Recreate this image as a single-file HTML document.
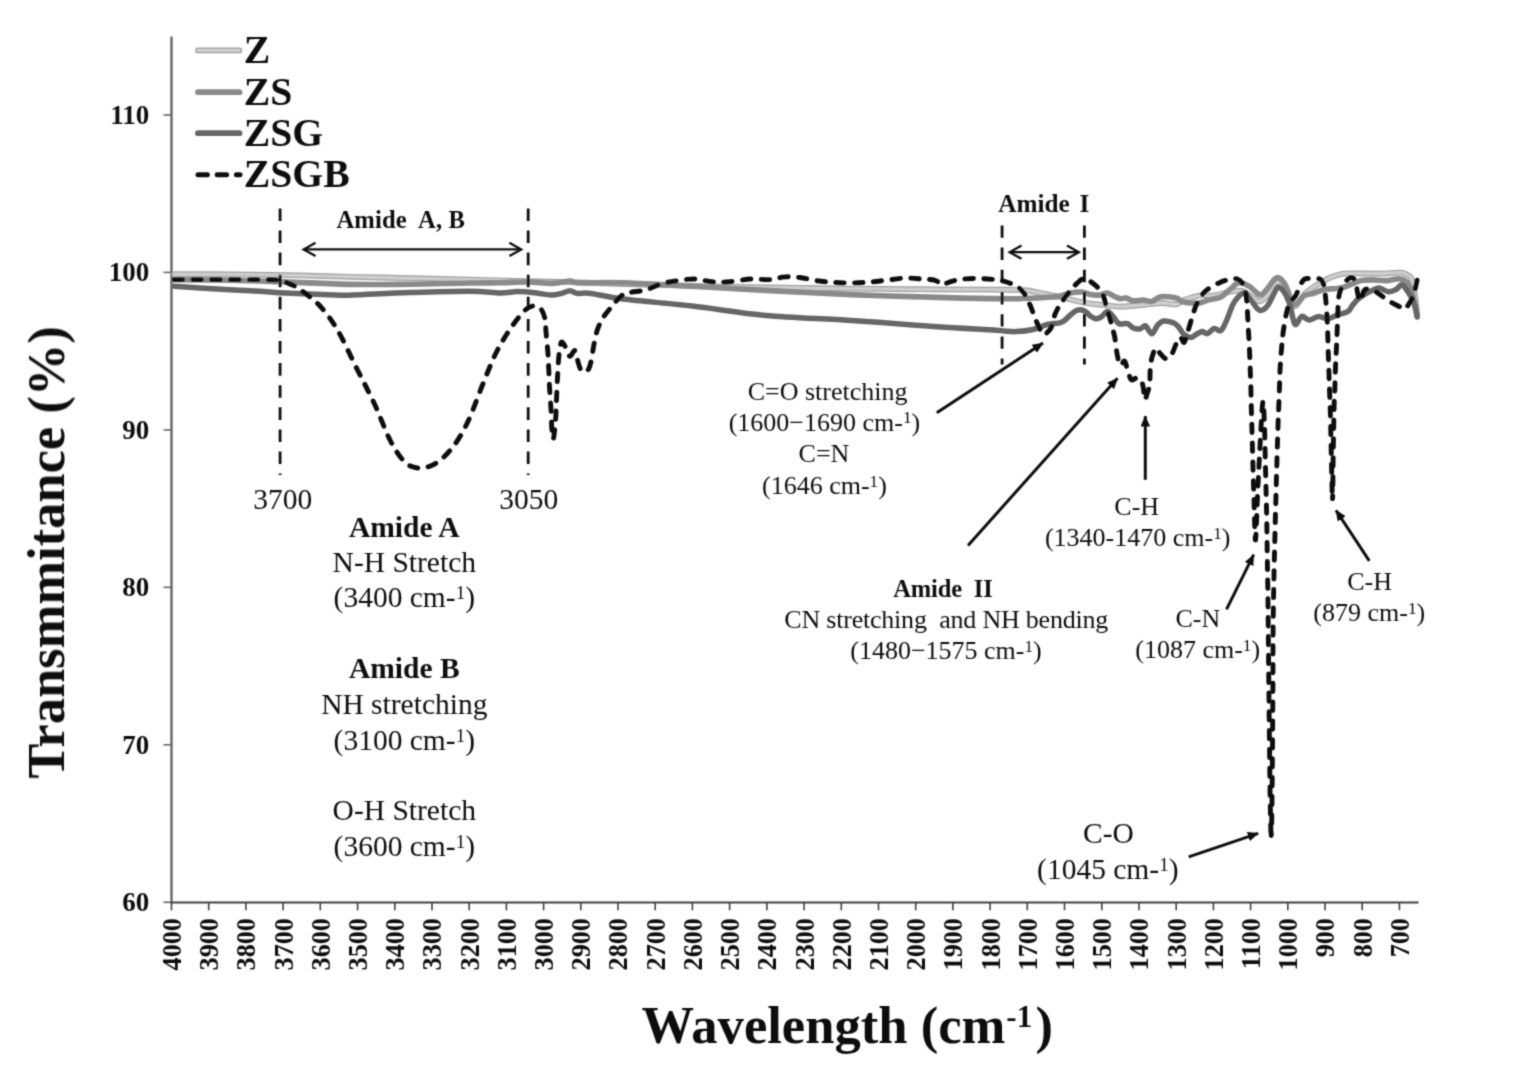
<!DOCTYPE html>
<html lang="en"><head><meta charset="utf-8"><title>FTIR spectra</title>
<style>
html,body{margin:0;padding:0;background:#fff}
body{width:1540px;height:1082px;overflow:hidden}
svg{display:block}
text{font-family:"Liberation Serif",serif;fill:#111}
.b{font-weight:bold}
.t25{font-size:27px;font-weight:bold}
.t27{font-size:27px;font-weight:bold}
.a26{font-size:26px}
.a29{font-size:29.5px}
.leg{font-size:40.2px;font-weight:bold}
</style></head><body>
<svg width="1540" height="1082" viewBox="0 0 1540 1082">
<defs>
<marker id="ah" viewBox="0 0 11 9.6" refX="10.4" refY="4.8" markerWidth="11" markerHeight="9.6" markerUnits="userSpaceOnUse" orient="auto"><path d="M0 0L11 4.8L0 9.6z" fill="#111"/></marker>
</defs>
<filter id="soft" x="0" y="0" width="1540" height="1082" filterUnits="userSpaceOnUse"><feConvolveMatrix order="3" kernelMatrix="0.0289 0.1122 0.0289 0.1122 0.4356 0.1122 0.0289 0.1122 0.0289" divisor="1" edgeMode="duplicate" preserveAlpha="false"/></filter>
<rect width="1540" height="1082" fill="#fff"/>
<g filter="url(#soft)">

<g stroke="#666" stroke-width="2.4" fill="none">
<path d="M171.5 36.5V902.5"/>
<path d="M163.5 115.0H171.5" stroke-width="1.6"/>
<path d="M163.5 272.4H171.5" stroke-width="1.6"/>
<path d="M163.5 429.9H171.5" stroke-width="1.6"/>
<path d="M163.5 587.3H171.5" stroke-width="1.6"/>
<path d="M163.5 744.8H171.5" stroke-width="1.6"/>
<path d="M163.5 902.3H171.5" stroke-width="1.6"/>
</g>
<g stroke="#404040" stroke-width="2.1" fill="none">
<path d="M170.5 902.5H1418.5"/>
<path d="M171.5 902.5V910.3" stroke-width="1.6"/>
<path d="M208.7 902.5V910.3" stroke-width="1.6"/>
<path d="M245.9 902.5V910.3" stroke-width="1.6"/>
<path d="M283.1 902.5V910.3" stroke-width="1.6"/>
<path d="M320.3 902.5V910.3" stroke-width="1.6"/>
<path d="M357.6 902.5V910.3" stroke-width="1.6"/>
<path d="M394.8 902.5V910.3" stroke-width="1.6"/>
<path d="M432.0 902.5V910.3" stroke-width="1.6"/>
<path d="M469.2 902.5V910.3" stroke-width="1.6"/>
<path d="M506.4 902.5V910.3" stroke-width="1.6"/>
<path d="M543.6 902.5V910.3" stroke-width="1.6"/>
<path d="M580.8 902.5V910.3" stroke-width="1.6"/>
<path d="M618.0 902.5V910.3" stroke-width="1.6"/>
<path d="M655.2 902.5V910.3" stroke-width="1.6"/>
<path d="M692.4 902.5V910.3" stroke-width="1.6"/>
<path d="M729.6 902.5V910.3" stroke-width="1.6"/>
<path d="M766.9 902.5V910.3" stroke-width="1.6"/>
<path d="M804.1 902.5V910.3" stroke-width="1.6"/>
<path d="M841.3 902.5V910.3" stroke-width="1.6"/>
<path d="M878.5 902.5V910.3" stroke-width="1.6"/>
<path d="M915.7 902.5V910.3" stroke-width="1.6"/>
<path d="M952.9 902.5V910.3" stroke-width="1.6"/>
<path d="M990.1 902.5V910.3" stroke-width="1.6"/>
<path d="M1027.3 902.5V910.3" stroke-width="1.6"/>
<path d="M1064.5 902.5V910.3" stroke-width="1.6"/>
<path d="M1101.8 902.5V910.3" stroke-width="1.6"/>
<path d="M1139.0 902.5V910.3" stroke-width="1.6"/>
<path d="M1176.2 902.5V910.3" stroke-width="1.6"/>
<path d="M1213.4 902.5V910.3" stroke-width="1.6"/>
<path d="M1250.6 902.5V910.3" stroke-width="1.6"/>
<path d="M1287.8 902.5V910.3" stroke-width="1.6"/>
<path d="M1325.0 902.5V910.3" stroke-width="1.6"/>
<path d="M1362.2 902.5V910.3" stroke-width="1.6"/>
<path d="M1399.4 902.5V910.3" stroke-width="1.6"/>
</g>
<text class="t27" x="149.2" y="123.8" text-anchor="end">110</text>
<text class="t27" x="149.2" y="281.2" text-anchor="end">100</text>
<text class="t27" x="149.2" y="438.7" text-anchor="end">90</text>
<text class="t27" x="149.2" y="596.1" text-anchor="end">80</text>
<text class="t27" x="149.2" y="753.6" text-anchor="end">70</text>
<text class="t27" x="149.2" y="911.1" text-anchor="end">60</text>
<text class="t25" transform="translate(180.9 918.1) rotate(-90) scale(0.97 1)" text-anchor="end">4000</text>
<text class="t25" transform="translate(218.1 918.1) rotate(-90) scale(0.97 1)" text-anchor="end">3900</text>
<text class="t25" transform="translate(255.3 918.1) rotate(-90) scale(0.97 1)" text-anchor="end">3800</text>
<text class="t25" transform="translate(292.5 918.1) rotate(-90) scale(0.97 1)" text-anchor="end">3700</text>
<text class="t25" transform="translate(329.7 918.1) rotate(-90) scale(0.97 1)" text-anchor="end">3600</text>
<text class="t25" transform="translate(366.9 918.1) rotate(-90) scale(0.97 1)" text-anchor="end">3500</text>
<text class="t25" transform="translate(404.2 918.1) rotate(-90) scale(0.97 1)" text-anchor="end">3400</text>
<text class="t25" transform="translate(441.4 918.1) rotate(-90) scale(0.97 1)" text-anchor="end">3300</text>
<text class="t25" transform="translate(478.6 918.1) rotate(-90) scale(0.97 1)" text-anchor="end">3200</text>
<text class="t25" transform="translate(515.8 918.1) rotate(-90) scale(0.97 1)" text-anchor="end">3100</text>
<text class="t25" transform="translate(553.0 918.1) rotate(-90) scale(0.97 1)" text-anchor="end">3000</text>
<text class="t25" transform="translate(590.2 918.1) rotate(-90) scale(0.97 1)" text-anchor="end">2900</text>
<text class="t25" transform="translate(627.4 918.1) rotate(-90) scale(0.97 1)" text-anchor="end">2800</text>
<text class="t25" transform="translate(664.6 918.1) rotate(-90) scale(0.97 1)" text-anchor="end">2700</text>
<text class="t25" transform="translate(701.8 918.1) rotate(-90) scale(0.97 1)" text-anchor="end">2600</text>
<text class="t25" transform="translate(739.0 918.1) rotate(-90) scale(0.97 1)" text-anchor="end">2500</text>
<text class="t25" transform="translate(776.3 918.1) rotate(-90) scale(0.97 1)" text-anchor="end">2400</text>
<text class="t25" transform="translate(813.5 918.1) rotate(-90) scale(0.97 1)" text-anchor="end">2300</text>
<text class="t25" transform="translate(850.7 918.1) rotate(-90) scale(0.97 1)" text-anchor="end">2200</text>
<text class="t25" transform="translate(887.9 918.1) rotate(-90) scale(0.97 1)" text-anchor="end">2100</text>
<text class="t25" transform="translate(925.1 918.1) rotate(-90) scale(0.97 1)" text-anchor="end">2000</text>
<text class="t25" transform="translate(962.3 918.1) rotate(-90) scale(0.97 1)" text-anchor="end">1900</text>
<text class="t25" transform="translate(999.5 918.1) rotate(-90) scale(0.97 1)" text-anchor="end">1800</text>
<text class="t25" transform="translate(1036.7 918.1) rotate(-90) scale(0.97 1)" text-anchor="end">1700</text>
<text class="t25" transform="translate(1073.9 918.1) rotate(-90) scale(0.97 1)" text-anchor="end">1600</text>
<text class="t25" transform="translate(1111.2 918.1) rotate(-90) scale(0.97 1)" text-anchor="end">1500</text>
<text class="t25" transform="translate(1148.4 918.1) rotate(-90) scale(0.97 1)" text-anchor="end">1400</text>
<text class="t25" transform="translate(1185.6 918.1) rotate(-90) scale(0.97 1)" text-anchor="end">1300</text>
<text class="t25" transform="translate(1222.8 918.1) rotate(-90) scale(0.97 1)" text-anchor="end">1200</text>
<text class="t25" transform="translate(1260.0 918.1) rotate(-90) scale(0.97 1)" text-anchor="end">1100</text>
<text class="t25" transform="translate(1297.2 918.1) rotate(-90) scale(0.97 1)" text-anchor="end">1000</text>
<text class="t25" transform="translate(1334.4 918.1) rotate(-90) scale(0.97 1)" text-anchor="end">900</text>
<text class="t25" transform="translate(1371.6 918.1) rotate(-90) scale(0.97 1)" text-anchor="end">800</text>
<text class="t25" transform="translate(1408.8 918.1) rotate(-90) scale(0.97 1)" text-anchor="end">700</text>
<text class="b" font-size="53" transform="translate(64 552.4) rotate(-90)" text-anchor="middle" textLength="452.5" lengthAdjust="spacingAndGlyphs">Transmmitance (%)</text>
<text class="b" font-size="52.6" x="641.6" y="1042.7">Wavelength (cm<tspan font-size="31" dy="-15.5" dx="1">-1</tspan><tspan dy="15.5" dx="3.4">)</tspan></text>
<g fill="none" stroke-linejoin="round" stroke-linecap="round">
<path d="M174.2 274.2C183.5 274.2 210.7 274.2 230.0 274.4C249.3 274.6 270.0 274.8 290.0 275.2C310.0 275.6 330.0 276.3 350.0 276.8C370.0 277.3 390.0 277.7 410.0 278.2C430.0 278.7 450.3 279.1 470.0 279.6C489.7 280.1 511.3 280.8 528.0 281.2C544.7 281.6 554.2 281.7 570.0 282.2C585.8 282.7 602.7 283.4 623.0 284.0C643.3 284.6 668.2 285.2 692.0 285.8C715.8 286.4 739.1 286.9 765.7 287.4C792.3 287.9 822.9 288.3 851.4 288.6C879.9 288.9 913.9 289.2 937.0 289.4C960.1 289.6 977.8 289.5 990.0 289.6C1002.2 289.7 1003.8 289.7 1010.0 289.8C1016.2 289.9 1021.0 289.6 1027.2 290.4C1033.4 291.2 1042.0 293.4 1047.3 294.4C1052.5 295.4 1053.9 295.4 1058.7 296.5C1063.5 297.6 1070.6 299.6 1075.9 300.8C1081.2 302.0 1085.5 303.0 1090.3 303.7C1095.1 304.4 1099.8 304.6 1104.6 305.1C1109.4 305.6 1114.1 306.5 1118.9 306.6C1123.7 306.7 1128.4 306.2 1133.2 305.8C1138.0 305.4 1142.7 304.9 1147.5 304.4C1152.3 303.9 1157.1 303.0 1161.9 303.0C1166.7 303.0 1172.9 304.8 1176.2 304.4C1179.5 304.0 1179.5 301.9 1181.9 300.8C1184.3 299.7 1187.2 298.9 1190.5 298.0C1193.8 297.1 1197.9 295.5 1202.0 295.1C1206.1 294.7 1210.3 296.0 1215.0 295.4C1219.7 294.8 1225.5 292.4 1230.0 291.7C1234.5 290.9 1238.5 290.1 1242.0 290.9C1245.5 291.6 1247.9 294.4 1250.9 296.2C1253.9 297.9 1257.2 301.5 1259.9 301.4C1262.7 301.3 1264.9 298.1 1267.4 295.4C1269.9 292.7 1272.9 287.2 1274.9 285.0C1276.9 282.8 1277.7 281.5 1279.4 282.0C1281.2 282.5 1283.4 284.8 1285.4 288.0C1287.4 291.2 1289.6 298.4 1291.3 301.4C1293.0 304.4 1293.5 307.1 1295.8 305.9C1298.0 304.6 1301.3 297.4 1304.8 293.9C1308.3 290.4 1312.8 287.6 1316.8 285.0C1320.8 282.4 1324.5 280.1 1328.8 278.2C1333.0 276.3 1337.6 274.6 1342.3 273.8C1347.0 273.0 1351.0 273.4 1357.2 273.4C1363.4 273.4 1372.5 273.7 1379.7 273.6C1387.0 273.5 1396.3 272.5 1400.7 272.6C1405.1 272.7 1404.2 273.3 1406.0 274.2C1407.8 275.1 1409.8 275.0 1411.2 278.0C1412.6 281.0 1413.5 286.0 1414.5 292.0C1415.5 298.0 1416.8 310.3 1417.2 314.0" stroke="#a0a0a0" stroke-width="5.8"/>
<path d="M174.2 274.2C183.5 274.2 210.7 274.2 230.0 274.4C249.3 274.6 270.0 274.8 290.0 275.2C310.0 275.6 330.0 276.3 350.0 276.8C370.0 277.3 390.0 277.7 410.0 278.2C430.0 278.7 450.3 279.1 470.0 279.6C489.7 280.1 511.3 280.8 528.0 281.2C544.7 281.6 554.2 281.7 570.0 282.2C585.8 282.7 602.7 283.4 623.0 284.0C643.3 284.6 668.2 285.2 692.0 285.8C715.8 286.4 739.1 286.9 765.7 287.4C792.3 287.9 822.9 288.3 851.4 288.6C879.9 288.9 913.9 289.2 937.0 289.4C960.1 289.6 977.8 289.5 990.0 289.6C1002.2 289.7 1003.8 289.7 1010.0 289.8C1016.2 289.9 1021.0 289.6 1027.2 290.4C1033.4 291.2 1042.0 293.4 1047.3 294.4C1052.5 295.4 1053.9 295.4 1058.7 296.5C1063.5 297.6 1070.6 299.6 1075.9 300.8C1081.2 302.0 1085.5 303.0 1090.3 303.7C1095.1 304.4 1099.8 304.6 1104.6 305.1C1109.4 305.6 1114.1 306.5 1118.9 306.6C1123.7 306.7 1128.4 306.2 1133.2 305.8C1138.0 305.4 1142.7 304.9 1147.5 304.4C1152.3 303.9 1157.1 303.0 1161.9 303.0C1166.7 303.0 1172.9 304.8 1176.2 304.4C1179.5 304.0 1179.5 301.9 1181.9 300.8C1184.3 299.7 1187.2 298.9 1190.5 298.0C1193.8 297.1 1197.9 295.5 1202.0 295.1C1206.1 294.7 1210.3 296.0 1215.0 295.4C1219.7 294.8 1225.5 292.4 1230.0 291.7C1234.5 290.9 1238.5 290.1 1242.0 290.9C1245.5 291.6 1247.9 294.4 1250.9 296.2C1253.9 297.9 1257.2 301.5 1259.9 301.4C1262.7 301.3 1264.9 298.1 1267.4 295.4C1269.9 292.7 1272.9 287.2 1274.9 285.0C1276.9 282.8 1277.7 281.5 1279.4 282.0C1281.2 282.5 1283.4 284.8 1285.4 288.0C1287.4 291.2 1289.6 298.4 1291.3 301.4C1293.0 304.4 1293.5 307.1 1295.8 305.9C1298.0 304.6 1301.3 297.4 1304.8 293.9C1308.3 290.4 1312.8 287.6 1316.8 285.0C1320.8 282.4 1324.5 280.1 1328.8 278.2C1333.0 276.3 1337.6 274.6 1342.3 273.8C1347.0 273.0 1351.0 273.4 1357.2 273.4C1363.4 273.4 1372.5 273.7 1379.7 273.6C1387.0 273.5 1396.3 272.5 1400.7 272.6C1405.1 272.7 1404.2 273.3 1406.0 274.2C1407.8 275.1 1409.8 275.0 1411.2 278.0C1412.6 281.0 1413.5 286.0 1414.5 292.0C1415.5 298.0 1416.8 310.3 1417.2 314.0" stroke="#cdcdcd" stroke-width="3.4"/>
<path d="M174.2 279.8C183.5 279.9 211.5 279.9 230.0 280.2C248.5 280.5 264.6 281.2 285.0 281.9C305.4 282.6 331.7 284.0 352.5 284.4C373.3 284.8 390.4 284.4 410.0 284.2C429.6 284.0 455.0 283.2 470.0 283.0C485.0 282.8 490.3 283.0 500.0 282.8C509.7 282.6 519.2 281.9 528.0 282.0C536.8 282.1 545.7 283.6 552.7 283.4C559.7 283.2 565.6 281.1 570.0 281.0C574.4 280.9 570.2 282.5 579.0 282.8C587.8 283.1 604.2 282.2 623.0 282.8C641.8 283.4 668.2 285.0 692.0 286.3C715.8 287.6 739.1 289.0 765.7 290.4C792.3 291.8 822.9 293.4 851.4 294.6C879.9 295.8 913.9 296.7 937.0 297.4C960.1 298.1 976.4 298.4 990.0 298.6C1003.6 298.8 1009.1 298.9 1018.6 298.7C1028.2 298.5 1040.6 297.7 1047.3 297.3C1054.0 296.9 1054.9 297.2 1058.7 296.5C1062.5 295.8 1066.4 293.8 1070.2 293.0C1074.0 292.2 1078.4 291.8 1081.7 292.0C1085.0 292.2 1087.5 293.9 1090.3 294.4C1093.1 294.9 1095.9 295.3 1098.8 295.1C1101.7 294.9 1104.8 292.8 1107.4 293.0C1110.0 293.2 1112.4 295.6 1114.6 296.5C1116.8 297.4 1118.4 298.4 1120.3 298.7C1122.2 298.9 1123.8 297.6 1126.0 298.0C1128.2 298.4 1130.3 300.4 1133.2 300.8C1136.1 301.2 1140.1 300.0 1143.2 300.1C1146.3 300.2 1149.4 301.9 1151.8 301.5C1154.2 301.1 1155.7 298.8 1157.6 298.0C1159.5 297.2 1160.2 296.5 1163.3 296.5C1166.4 296.5 1173.1 297.2 1176.2 298.0C1179.3 298.8 1179.5 300.7 1181.9 301.5C1184.3 302.3 1187.6 302.8 1190.5 303.0C1193.4 303.2 1196.0 303.5 1199.1 303.0C1202.2 302.5 1205.3 300.9 1209.0 299.9C1212.7 298.9 1217.5 298.6 1221.0 296.9C1224.5 295.1 1227.0 291.8 1230.0 289.4C1233.0 287.0 1235.7 283.2 1238.9 282.7C1242.1 282.2 1245.9 284.4 1249.4 286.4C1252.9 288.4 1256.9 294.3 1259.9 294.7C1262.9 295.1 1265.2 291.1 1267.4 288.7C1269.7 286.3 1271.7 282.4 1273.4 280.5C1275.2 278.6 1276.2 277.1 1277.9 277.5C1279.7 277.9 1282.2 280.2 1283.9 282.7C1285.7 285.2 1287.0 288.8 1288.4 292.4C1289.8 296.0 1290.6 302.6 1292.1 304.4C1293.6 306.1 1295.2 304.4 1297.3 302.9C1299.4 301.4 1302.0 297.0 1304.8 295.4C1307.5 293.8 1310.5 294.2 1313.8 293.2C1317.0 292.2 1320.8 290.1 1324.3 289.4C1327.8 288.6 1331.7 289.0 1334.8 288.7C1337.9 288.4 1339.7 288.4 1342.9 287.5C1346.1 286.6 1350.9 284.3 1354.0 283.1C1357.1 281.9 1358.4 280.9 1361.4 280.4C1364.4 279.9 1367.9 279.9 1372.2 279.9C1376.5 279.9 1382.7 280.8 1387.2 280.6C1391.7 280.4 1396.0 278.6 1399.2 278.8C1402.4 279.0 1404.5 279.7 1406.6 282.0C1408.7 284.3 1410.2 286.8 1412.0 292.5C1413.8 298.2 1416.3 312.1 1417.2 316.0" stroke="#8a8a8a" stroke-width="5.6"/>
<path d="M174.2 286.2C178.5 286.5 185.7 287.1 200.0 288.0C214.3 288.9 245.8 290.5 260.0 291.3C274.2 292.1 272.5 292.4 285.0 293.0C297.5 293.6 323.8 294.7 335.0 295.0C346.2 295.3 340.0 295.4 352.5 295.0C365.0 294.6 390.4 293.1 410.0 292.5C429.6 291.9 455.0 291.1 470.0 291.2C485.0 291.3 492.1 292.9 500.0 293.0C507.9 293.1 511.8 291.6 517.6 291.6C523.4 291.6 529.4 292.2 535.0 292.8C540.6 293.4 546.6 294.9 551.0 295.0C555.4 295.1 558.3 294.1 561.5 293.4C564.7 292.7 567.4 290.7 570.0 290.7C572.6 290.7 573.8 292.9 577.3 293.4C580.8 293.8 583.4 292.5 591.0 293.4C598.6 294.3 606.2 296.9 623.0 299.0C639.8 301.1 668.2 303.3 692.0 306.0C715.8 308.7 739.1 313.0 765.7 315.4C792.3 317.8 822.9 318.5 851.4 320.4C879.9 322.3 913.9 325.2 937.0 326.8C960.1 328.4 978.8 329.1 990.0 329.8C1001.2 330.5 1000.0 330.6 1004.3 330.9C1008.6 331.2 1011.0 331.8 1015.8 331.6C1020.6 331.4 1027.8 330.7 1033.0 329.5C1038.2 328.3 1042.5 325.7 1047.3 324.5C1052.1 323.3 1057.8 323.9 1061.6 322.3C1065.4 320.8 1067.6 317.2 1070.2 315.2C1072.8 313.2 1075.0 310.8 1077.4 310.1C1079.8 309.4 1082.3 309.9 1084.5 310.9C1086.7 311.9 1088.4 314.6 1090.3 315.9C1092.2 317.2 1094.1 318.6 1096.0 318.7C1097.9 318.8 1099.8 317.8 1101.7 316.6C1103.6 315.4 1105.5 311.6 1107.4 311.6C1109.3 311.6 1111.3 314.6 1113.2 316.6C1115.1 318.6 1116.5 322.5 1118.9 323.7C1121.3 324.9 1125.1 323.0 1127.5 323.7C1129.9 324.4 1131.0 327.1 1133.2 328.0C1135.4 328.9 1138.4 329.2 1140.4 328.8C1142.4 328.4 1143.5 325.1 1145.4 325.9C1147.3 326.7 1149.8 333.9 1151.8 333.8C1153.8 333.7 1155.6 327.4 1157.6 325.2C1159.6 323.0 1160.9 321.0 1164.0 320.9C1167.1 320.8 1173.0 322.4 1176.2 324.5C1179.4 326.6 1181.0 331.7 1183.4 333.8C1185.8 335.9 1188.4 337.3 1190.5 337.4C1192.6 337.5 1194.3 335.5 1196.2 334.5C1198.1 333.5 1200.1 331.8 1202.0 331.6C1203.9 331.5 1205.5 334.1 1207.5 333.6C1209.5 333.1 1212.0 328.9 1214.2 328.4C1216.5 327.9 1218.9 332.1 1221.0 330.6C1223.1 329.1 1225.0 323.8 1227.0 319.4C1229.0 315.0 1230.9 308.3 1232.9 304.4C1234.9 300.5 1236.9 298.1 1238.9 296.2C1240.9 294.3 1242.9 292.6 1244.9 293.2C1246.9 293.8 1248.9 297.4 1250.9 299.9C1252.9 302.4 1255.2 306.4 1256.9 308.2C1258.7 309.9 1259.7 310.8 1261.4 310.4C1263.2 310.0 1265.4 308.5 1267.4 305.9C1269.4 303.3 1271.7 297.8 1273.4 294.7C1275.2 291.6 1276.2 287.7 1277.9 287.2C1279.7 286.7 1281.9 288.8 1283.9 291.7C1285.9 294.6 1288.3 300.0 1289.8 304.4C1291.3 308.8 1291.8 314.5 1292.8 317.9C1293.8 321.3 1294.3 324.9 1295.8 324.6C1297.3 324.4 1299.5 317.1 1301.8 316.4C1304.0 315.6 1306.5 320.1 1309.3 320.1C1312.0 320.1 1315.3 316.6 1318.3 316.4C1321.3 316.1 1324.0 318.9 1327.3 318.6C1330.5 318.4 1334.3 316.1 1337.8 314.9C1341.3 313.7 1345.8 312.8 1348.2 311.2C1350.7 309.6 1350.9 307.3 1352.5 305.3C1354.1 303.3 1355.6 301.2 1357.7 299.4C1359.8 297.5 1362.5 295.7 1365.0 294.2C1367.5 292.7 1370.2 291.3 1372.5 290.3C1374.8 289.3 1376.2 287.8 1378.9 288.0C1381.6 288.2 1385.7 291.5 1388.5 291.8C1391.3 292.1 1393.7 290.9 1395.9 289.7C1398.1 288.5 1400.0 284.7 1401.8 284.8C1403.6 284.9 1405.0 287.6 1407.0 290.5C1409.0 293.4 1411.9 297.6 1413.6 302.0C1415.3 306.4 1416.6 314.5 1417.2 317.0" stroke="#666" stroke-width="5.5"/>
<path d="M174.2 279.6C178.5 279.6 189.0 279.6 200.0 279.6C211.0 279.6 228.3 279.6 240.0 279.6C251.7 279.6 263.3 279.6 270.0 279.7C276.7 279.8 276.7 279.7 280.0 280.4C283.3 281.1 286.7 282.5 290.0 284.0C293.3 285.5 295.0 285.8 300.0 289.5C305.0 293.2 313.8 299.2 320.0 306.0C326.2 312.8 331.2 319.3 337.5 330.0C343.8 340.7 351.2 357.5 357.5 370.0C363.8 382.5 369.6 393.3 375.0 405.0C380.4 416.7 385.2 430.7 390.0 440.0C394.8 449.3 399.2 456.3 403.8 461.0C408.4 465.7 412.3 467.5 417.5 468.0C422.7 468.5 429.2 467.2 435.0 463.8C440.8 460.4 447.1 454.4 452.5 447.5C457.9 440.6 462.5 432.9 467.5 422.5C472.5 412.1 477.9 396.2 482.5 385.0C487.1 373.8 490.9 363.5 495.0 355.0C499.1 346.5 503.2 339.8 507.0 333.8C510.8 327.8 514.4 322.9 517.6 318.8C520.8 314.7 523.7 311.3 526.3 309.2C528.9 307.1 531.0 306.1 533.4 306.0C535.8 305.9 538.5 306.3 540.4 308.3C542.3 310.3 543.9 314.1 544.8 318.0C545.7 321.9 545.5 326.4 546.0 332.0C546.5 337.6 547.3 344.9 547.8 351.3C548.3 357.8 548.5 364.2 548.8 370.7C549.1 377.1 549.3 383.6 549.7 390.0C550.1 396.4 550.6 402.9 551.0 409.3C551.4 415.7 551.4 423.6 551.8 428.6C552.2 433.6 552.7 439.2 553.2 439.2C553.7 439.2 554.3 432.7 554.8 428.6C555.2 424.5 555.6 419.9 555.9 414.6C556.2 409.3 556.3 403.4 556.6 397.0C556.9 390.6 557.2 382.7 557.6 376.0C558.0 369.3 558.3 361.9 558.8 356.6C559.3 351.3 560.0 346.7 560.6 344.3C561.2 341.9 561.5 341.6 562.4 342.2C563.3 342.8 564.6 345.4 565.9 347.8C567.1 350.2 568.4 355.9 569.9 356.3C571.4 356.8 573.5 350.0 574.7 350.5C575.9 351.0 576.3 356.1 577.3 359.2C578.2 362.3 579.2 366.8 580.4 368.9C581.6 371.0 582.9 372.0 584.3 372.0C585.7 372.0 587.5 370.9 588.7 368.9C589.9 366.9 590.4 364.1 591.3 360.0C592.2 355.9 593.0 349.4 594.0 344.3C595.0 339.2 595.9 333.9 597.5 329.4C599.1 324.8 601.1 320.9 603.6 317.0C606.1 313.1 609.5 309.2 612.4 305.7C615.3 302.2 618.3 298.2 621.2 296.0C624.1 293.8 625.9 293.5 630.0 292.5C634.1 291.5 640.5 291.4 645.8 289.9C651.1 288.4 656.3 285.2 661.6 283.7C666.9 282.2 671.8 281.5 677.4 280.7C683.0 279.9 689.2 278.8 695.0 279.0C700.8 279.2 706.3 281.3 712.0 281.8C717.7 282.3 722.5 282.3 729.0 281.8C735.5 281.3 743.9 279.4 750.7 279.0C757.5 278.6 764.3 280.0 770.0 279.6C775.7 279.2 780.0 277.2 785.0 276.9C790.0 276.5 794.7 276.9 800.0 277.5C805.3 278.1 811.3 279.9 817.0 280.7C822.7 281.5 828.3 282.0 834.0 282.4C839.7 282.8 845.6 282.9 851.4 282.9C857.2 282.9 862.9 282.6 868.6 282.2C874.3 281.8 879.6 281.0 885.7 280.3C891.8 279.6 899.0 278.3 905.0 278.1C911.0 277.9 917.0 278.6 922.0 279.0C927.0 279.4 931.6 279.4 935.0 280.3C938.4 281.2 940.0 284.4 942.5 284.6C945.0 284.9 946.6 282.7 950.0 281.8C953.4 280.9 957.9 279.5 962.9 279.0C967.9 278.5 974.6 278.5 980.0 278.6C985.4 278.7 991.1 279.2 995.0 279.6C998.9 280.0 1001.1 280.5 1003.6 281.1C1006.1 281.7 1007.7 282.3 1010.0 283.2C1012.3 284.1 1014.8 284.8 1017.2 286.5C1019.6 288.2 1022.3 290.6 1024.4 293.7C1026.6 296.8 1028.4 301.3 1030.1 305.1C1031.8 308.9 1032.9 312.8 1034.4 316.6C1036.0 320.4 1037.9 325.0 1039.4 328.0C1041.0 331.0 1041.8 334.5 1043.7 334.5C1045.6 334.5 1049.0 331.5 1050.9 328.0C1052.8 324.5 1053.4 318.0 1055.2 313.7C1057.0 309.4 1059.1 306.1 1061.6 302.3C1064.1 298.5 1067.6 294.0 1070.2 290.8C1072.8 287.6 1075.1 284.9 1077.4 282.9C1079.7 280.9 1081.7 278.8 1083.8 278.6C1085.9 278.4 1088.0 280.1 1090.3 281.5C1092.6 282.9 1095.3 284.9 1097.4 287.2C1099.5 289.5 1101.5 291.6 1103.1 295.1C1104.6 298.6 1105.4 303.5 1106.7 308.0C1108.0 312.5 1109.7 317.5 1111.0 322.3C1112.3 327.1 1113.6 331.6 1114.6 336.6C1115.6 341.6 1116.1 348.2 1116.8 352.4C1117.5 356.6 1118.2 359.5 1118.9 361.7C1119.6 363.9 1120.0 365.4 1121.0 365.3C1122.0 365.2 1123.5 360.3 1124.6 361.0C1125.7 361.7 1126.4 366.5 1127.5 369.6C1128.6 372.7 1129.7 378.2 1131.1 379.6C1132.5 381.0 1134.5 378.2 1136.1 378.2C1137.6 378.2 1139.2 378.2 1140.4 379.6C1141.6 381.0 1142.5 383.5 1143.2 386.8C1143.9 390.1 1144.0 398.8 1144.7 399.7C1145.4 400.6 1146.7 395.1 1147.5 392.5C1148.3 389.9 1149.2 388.2 1149.7 383.9C1150.2 379.6 1149.9 371.5 1150.4 366.7C1150.9 361.9 1151.6 358.4 1152.6 355.3C1153.5 352.2 1154.8 348.4 1156.1 348.1C1157.4 347.9 1158.7 352.0 1160.4 353.8C1162.1 355.6 1164.3 358.8 1166.2 358.8C1168.1 358.8 1170.2 356.3 1171.9 353.8C1173.6 351.3 1174.8 346.5 1176.2 343.8C1177.6 341.1 1179.2 337.6 1180.5 337.4C1181.8 337.2 1182.9 343.2 1184.1 342.4C1185.3 341.5 1186.3 336.4 1187.6 332.3C1188.9 328.2 1190.5 322.5 1191.9 318.0C1193.3 313.5 1194.5 308.9 1196.2 305.1C1197.9 301.3 1200.1 297.7 1202.0 295.1C1203.9 292.5 1204.6 291.5 1207.5 289.4C1210.4 287.3 1215.8 284.4 1219.5 282.7C1223.2 281.0 1227.0 279.9 1230.0 279.3C1233.0 278.7 1235.3 278.3 1237.4 279.0C1239.5 279.7 1241.3 281.3 1242.7 283.5C1244.1 285.7 1245.0 288.4 1245.7 292.4C1246.5 296.4 1246.8 301.6 1247.2 307.4C1247.6 313.1 1247.8 320.2 1248.2 326.9C1248.6 333.6 1249.1 340.8 1249.4 347.8C1249.7 354.8 1250.0 361.8 1250.2 368.8C1250.5 375.8 1250.7 382.8 1250.9 389.8C1251.1 396.8 1251.1 400.7 1251.4 410.7C1251.7 420.7 1252.1 435.1 1252.5 450.0C1252.9 464.9 1253.5 485.0 1254.0 500.0C1254.5 515.0 1254.9 541.3 1255.5 539.8" stroke="#111" stroke-width="4.9" stroke-dasharray="8.4 10.4" stroke-dashoffset="0.00"/>
<path d="M1255.5 539.8C1256.1 538.3 1257.0 506.5 1257.7 491.0C1258.5 475.5 1259.2 461.4 1260.0 446.6C1260.8 431.8 1262.1 405.9 1262.8 402.2C1263.5 398.5 1264.0 413.3 1264.4 424.4C1264.9 435.5 1265.1 454.0 1265.5 468.8C1265.9 483.6 1266.3 498.2 1266.6 513.0C1266.9 527.8 1267.1 542.7 1267.3 557.5C1267.5 572.3 1267.7 578.2 1268.0 602.0C1268.3 625.8 1268.6 667.0 1269.0 700.0C1269.4 733.0 1269.8 777.4 1270.2 800.0C1270.6 822.6 1270.9 835.6 1271.2 835.6" stroke="#111" stroke-width="4.9" stroke-dasharray="8.4 10.4" stroke-dashoffset="2.64"/>
<path d="M1271.2 835.6C1271.5 835.6 1271.7 822.6 1272.0 800.0C1272.3 777.4 1272.6 730.0 1272.8 700.0C1273.0 670.0 1272.9 643.8 1273.2 620.0C1273.5 596.2 1273.9 579.0 1274.4 557.5C1274.9 536.0 1275.5 511.3 1276.1 491.0C1276.6 470.7 1277.2 452.4 1277.7 435.5C1278.2 418.6 1279.0 400.9 1279.4 389.8C1279.8 378.7 1279.7 375.8 1280.1 368.8C1280.5 361.8 1281.1 353.8 1281.6 347.8C1282.1 341.8 1282.3 338.4 1283.1 332.9C1283.8 327.4 1285.0 319.9 1286.1 314.9C1287.2 309.9 1288.2 306.1 1289.8 302.9C1291.4 299.6 1294.0 298.4 1295.8 295.4C1297.5 292.4 1298.8 287.7 1300.3 285.0C1301.8 282.3 1302.8 280.1 1304.8 279.0C1306.8 277.9 1309.8 278.7 1312.3 278.7C1314.8 278.7 1317.9 278.1 1319.8 279.0C1321.7 279.9 1322.5 280.7 1323.5 284.2C1324.5 287.7 1325.2 293.5 1325.8 299.9C1326.4 306.3 1326.9 314.9 1327.3 322.4C1327.7 329.9 1327.8 337.3 1328.0 344.8C1328.2 352.3 1328.5 359.8 1328.8 367.3C1329.0 374.8 1329.2 382.6 1329.5 389.8C1329.8 397.0 1330.0 400.7 1330.3 410.7C1330.6 420.7 1330.8 435.3 1331.2 450.0C1331.6 464.7 1332.2 498.7 1332.5 498.7" stroke="#111" stroke-width="4.9" stroke-dasharray="8.4 10.4" stroke-dashoffset="6.55"/>
<path d="M1332.5 498.7C1332.8 498.7 1333.0 464.7 1333.3 450.0C1333.5 435.3 1333.8 420.7 1334.0 410.7C1334.2 400.7 1334.5 397.0 1334.8 389.8C1335.0 382.6 1335.2 374.8 1335.5 367.3C1335.8 359.8 1336.3 352.3 1336.6 344.8C1336.9 337.3 1337.2 329.9 1337.5 322.4C1337.8 314.9 1338.0 305.4 1338.5 299.9C1339.0 294.4 1339.5 292.5 1340.8 289.4C1342.0 286.3 1344.3 283.2 1346.0 281.2C1347.7 279.2 1349.6 277.5 1351.2 277.5C1352.8 277.5 1354.3 278.5 1355.4 281.2C1356.5 283.9 1357.0 290.2 1357.7 293.5C1358.4 296.8 1358.8 300.4 1359.5 300.9C1360.2 301.4 1361.2 298.3 1362.1 296.4C1363.0 294.5 1363.3 290.7 1365.0 289.6C1366.7 288.5 1370.1 289.0 1372.5 289.8C1374.9 290.6 1376.9 292.4 1379.6 294.2C1382.3 296.0 1385.2 298.7 1388.5 300.8C1391.8 302.9 1396.9 305.3 1399.6 306.7C1402.3 308.1 1403.0 309.7 1404.7 309.0C1406.4 308.3 1408.4 304.6 1409.9 302.3C1411.4 300.0 1412.6 297.6 1413.6 295.0C1414.5 292.4 1415.0 289.6 1415.6 287.0C1416.2 284.4 1416.9 280.8 1417.2 279.5" stroke="#111" stroke-width="4.9" stroke-dasharray="8.4 10.4" stroke-dashoffset="5.01"/>
</g>
<g fill="none" stroke-linecap="round">
<path d="M198 50.4H239.5" stroke="#a0a0a0" stroke-width="5.8"/>
<path d="M198 50.4H239.5" stroke="#cdcdcd" stroke-width="3.4"/>
<path d="M198 92.2H239.5" stroke="#8a8a8a" stroke-width="5.8"/>
<path d="M198 133.2H239.5" stroke="#666" stroke-width="5.8"/>
<path d="M198 174.8H240" stroke="#111" stroke-width="5" stroke-dasharray="9.4 9.8"/>
</g>
<text class="leg" x="243.7" y="62.8" textLength="26.5" lengthAdjust="spacingAndGlyphs">Z</text>
<text class="leg" x="243.7" y="104.8" textLength="48.6" lengthAdjust="spacingAndGlyphs">ZS</text>
<text class="leg" x="243.7" y="146.0" textLength="79.5" lengthAdjust="spacingAndGlyphs">ZSG</text>
<text class="leg" x="243.7" y="187.4" textLength="106.0" lengthAdjust="spacingAndGlyphs">ZSGB</text>
<g stroke="#111" stroke-width="2.8" fill="none" stroke-dasharray="12.6 9.5">
<path d="M280.1 208.4V475"/>
<path d="M528.2 208.4V475"/>
<path d="M1002.1 225.4V364.6" stroke-dasharray="12.4 9.8"/>
<path d="M1084.4 225.4V364.6" stroke-dasharray="12.4 9.8"/>
</g>
<g stroke="#111" stroke-width="2.3" fill="none" stroke-linecap="butt" stroke-linejoin="miter">
<path d="M303.7 249.4H521.2"/>
<path d="M315.5 242.8L303.7 249.4L315.5 256.0"/>
<path d="M509.4 242.8L521.2 249.4L509.4 256.0"/>
</g>
<g stroke="#111" stroke-width="2.3" fill="none" stroke-linecap="butt" stroke-linejoin="miter">
<path d="M1009.7 252.2H1078.8"/>
<path d="M1021.5 245.6L1009.7 252.2L1021.5 258.8"/>
<path d="M1067.0 245.6L1078.8 252.2L1067.0 258.8"/>
</g>
<path d="M936.8 412.7L1043.0 343.1" stroke="#111" stroke-width="3" fill="none" marker-end="url(#ah)"/>
<path d="M968.0 545.5L1117.5 378.2" stroke="#111" stroke-width="3" fill="none" marker-end="url(#ah)"/>
<path d="M1145.3 479.8L1145.3 416.1" stroke="#111" stroke-width="3" fill="none" marker-end="url(#ah)"/>
<path d="M1226.5 609.3L1253.7 554.7" stroke="#111" stroke-width="3" fill="none" marker-end="url(#ah)"/>
<path d="M1369.3 560.8L1336.0 510.3" stroke="#111" stroke-width="3" fill="none" marker-end="url(#ah)"/>
<path d="M1188.7 856.9L1258.2 833.3" stroke="#111" stroke-width="3" fill="none" marker-end="url(#ah)"/>
<text class="b" x="336.4" y="227.5" text-anchor="start" font-size="24.6" textLength="128.6" xml:space="preserve">Amide  A, B</text>
<text class="b" x="998.3" y="211.9" text-anchor="start" font-size="25.2">Amide <tspan x="1079.4">I</tspan></text>
<text class="a29" x="253.3" y="509.3" text-anchor="start">3700</text>
<text class="a29" x="499.3" y="509.3" text-anchor="start">3050</text>
<text class="a29 b" x="404.3" y="537.0" text-anchor="middle">Amide A</text>
<text class="a29" x="404.3" y="571.6" text-anchor="middle">N-H Stretch</text>
<text class="a29" x="404.3" y="607.4" text-anchor="middle">(3400 cm-<tspan font-size="19.1" dy="-8.1">1</tspan><tspan dy="8.1">)</tspan></text>
<text class="a29 b" x="404.3" y="678.1" text-anchor="middle">Amide B</text>
<text class="a29" x="404.3" y="714.2" text-anchor="middle">NH stretching</text>
<text class="a29" x="404.3" y="749.7" text-anchor="middle">(3100 cm-<tspan font-size="19.1" dy="-8.1">1</tspan><tspan dy="8.1">)</tspan></text>
<text class="a29" x="404.3" y="820.2" text-anchor="middle">O-H Stretch</text>
<text class="a29" x="404.3" y="856.0" text-anchor="middle">(3600 cm-<tspan font-size="19.1" dy="-8.1">1</tspan><tspan dy="8.1">)</tspan></text>
<text class="a26" x="827.6" y="399.7" text-anchor="middle">C=O stretching</text>
<text class="a26" x="824.4" y="430.5" text-anchor="middle">(1600−1690 cm-<tspan font-size="17.2" dy="-7.3">1</tspan><tspan dy="7.3">)</tspan></text>
<text class="a26" x="824.0" y="462.1" text-anchor="middle">C=N</text>
<text class="a26" x="824.4" y="494.0" text-anchor="middle">(1646 cm-<tspan font-size="17.2" dy="-7.3">1</tspan><tspan dy="7.3">)</tspan></text>
<text class="b" x="893.3" y="597.0" text-anchor="start" font-size="24.5" textLength="99.5" xml:space="preserve">Amide  II</text>
<text class="a26" x="784.3" y="627.8" text-anchor="start" textLength="324" xml:space="preserve">CN stretching  and NH bending</text>
<text class="a26" x="946.0" y="659.0" text-anchor="middle">(1480−1575 cm-<tspan font-size="17.2" dy="-7.3">1</tspan><tspan dy="7.3">)</tspan></text>
<text class="a26" x="1136.7" y="515.0" text-anchor="middle">C-H</text>
<text class="a26" x="1137.7" y="546.4" text-anchor="middle">(1340-1470 cm-<tspan font-size="17.2" dy="-7.3">1</tspan><tspan dy="7.3">)</tspan></text>
<text class="a26" x="1197.9" y="626.5" text-anchor="middle">C-N</text>
<text class="a26" x="1197.7" y="657.8" text-anchor="middle">(1087 cm-<tspan font-size="17.2" dy="-7.3">1</tspan><tspan dy="7.3">)</tspan></text>
<text class="a26" x="1369.6" y="589.9" text-anchor="middle">C-H</text>
<text class="a26" x="1369.3" y="621.2" text-anchor="middle">(879 cm-<tspan font-size="17.2" dy="-7.3">1</tspan><tspan dy="7.3">)</tspan></text>
<text class="a29" x="1108.4" y="843.1" text-anchor="middle">C-O</text>
<text class="a29" x="1107.8" y="879.1" text-anchor="middle">(1045 cm-<tspan font-size="19.1" dy="-8.1">1</tspan><tspan dy="8.1">)</tspan></text>
</g></svg></body></html>
